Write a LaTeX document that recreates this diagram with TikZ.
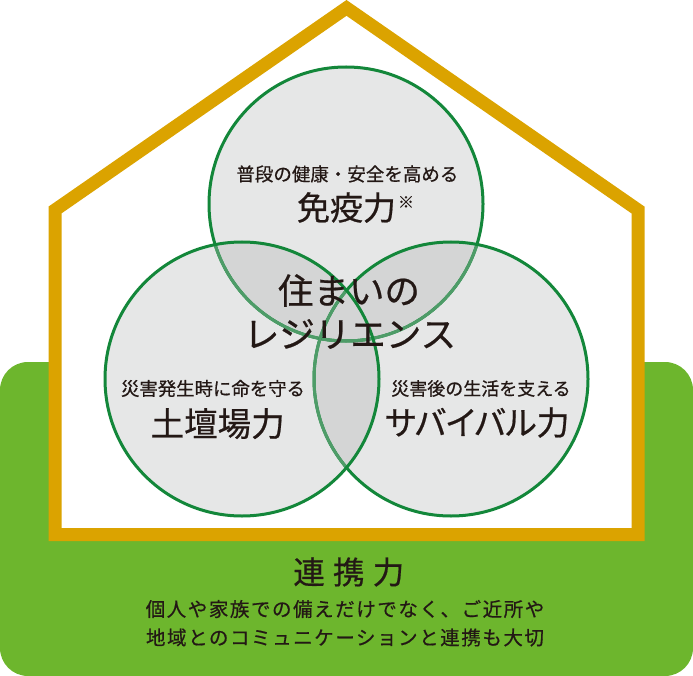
\documentclass[tikz,border=0pt]{standalone}
\usepackage{fontspec}
\newfontfamily\jp[FakeBold=0.6]{Noto Sans CJK JP}
\newfontfamily\jpp[FakeBold=0.6,RawFeature=+palt]{Noto Sans CJK JP}
\definecolor{gold}{HTML}{DBA300}
\definecolor{leaf}{HTML}{6DB62D}
\definecolor{ring}{HTML}{13873A}
\definecolor{ringlight}{HTML}{4E9C68}
\definecolor{disc}{HTML}{E6E7E7}
\definecolor{lens}{HTML}{D4D5D5}
\definecolor{ink}{HTML}{231815}
\begin{document}
\begin{tikzpicture}[x=1pt,y=-1pt]
\tikzset{
  txt/.style={inner sep=0pt, outer sep=0pt, text=ink},
  ringline/.style={draw=ring, line width=3pt},
  ringfaint/.style={draw=ringlight, line width=3pt},
  house/.style={draw=gold, line width=13pt, fill=white, miter limit=10},
}
\useasboundingbox (0,0) rectangle (693,676);
% ground
\fill[leaf, rounded corners=28pt] (0,362) rectangle (693,676);
% house
\draw[house] (55,534.5) -- (55,210) -- (346.5,7.9) -- (638,210) -- (638,534.5) -- cycle;
% circles
\coordinate (ct) at (346,204);
\coordinate (cl) at (242,379);
\coordinate (cr) at (451,379);
\fill[disc] (ct) circle[radius=137pt];
\fill[disc] (cl) circle[radius=137pt];
\fill[disc] (cr) circle[radius=137pt];
\begin{scope}
  \clip (ct) circle[radius=137pt];
  \fill[lens] (cl) circle[radius=137pt];
  \fill[lens] (cr) circle[radius=137pt];
\end{scope}
\begin{scope}
  \clip (cl) circle[radius=137pt];
  \fill[lens] (cr) circle[radius=137pt];
\end{scope}
\draw[ringline] (ct) circle[radius=137pt];
\begin{scope}
  \clip (cr) circle[radius=137pt];
  \draw[ringfaint] (ct) circle[radius=137pt];
\end{scope}
\begin{scope}
  \clip (cl) circle[radius=137pt];
  \draw[ringfaint] (ct) circle[radius=137pt];
\end{scope}
\draw[ringline] (cr) circle[radius=137pt];
\begin{scope}
  \clip (cl) circle[radius=137pt];
  \draw[ringfaint] (cr) circle[radius=137pt];
\end{scope}
\draw[ringline] (cl) circle[radius=137pt];
% texts
\node[txt, font=\jp\fontsize{18.5}{20}\selectfont] (topsub) at (347.4,174) {普段の健康・安全を高める};
\node[txt, font=\jp\fontsize{33}{36}\selectfont] (topmain) at (346.5,207.5) {免疫力};
\node[txt, font=\jp\fontsize{16}{16}\selectfont] (note) at (406,202) {※};
\node[txt, font=\jp\fontsize{35.5}{40}\selectfont] (core1) at (349,290.5) {住まいの};
\node[txt, font=\jp\fontsize{35.5}{40}\selectfont] (core2) at (350,334) {レジリエンス};
\node[txt, font=\jp\fontsize{18.4}{20}\selectfont] (leftsub) at (213,388.5) {災害発生時に命を守る};
\node[txt, font=\jp\fontsize{33.5}{36}\selectfont] (leftmain) at (217.7,423.6) {土壇場力};
\node[txt, font=\jp\fontsize{18}{20}\selectfont] (rightsub) at (481,388.5) {災害後の生活を支える};
\node[txt, font=\jpp\fontsize{33}{36}\selectfont] (rightmain) at (477.3,422.5) {サバイバル力};
\node[txt, font=\jp\fontsize{31.5}{34}\selectfont\addfontfeatures{LetterSpace=26}] (bondmain) at (348.8,572) {連携力};
\node[txt, font=\jp\fontsize{19.5}{22}\selectfont\addfontfeatures{LetterSpace=8}] (bond1) at (345,609) {個人や家族での備えだけでなく、ご近所や};
\node[txt, font=\jp\fontsize{19.5}{22}\selectfont\addfontfeatures{LetterSpace=8}] (bond2) at (345,637.5) {地域とのコミュニケーションと連携も大切};
\end{tikzpicture}
\end{document}
